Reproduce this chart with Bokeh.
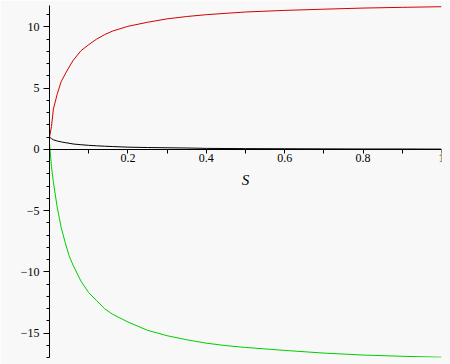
from bokeh.plotting import figure
from bokeh.models import FixedTicker, Range1d
from bokeh.embed import file_html
from bokeh.resources import INLINE

# data
s = [0, 0.005, 0.01, 0.02, 0.03, 0.04, 0.05, 0.06, 0.08, 0.1, 0.12, 0.14, 0.16,
     0.2, 0.25, 0.3, 0.35, 0.4, 0.45, 0.5, 0.6, 0.7, 0.8, 0.9, 1.0]
red = [1.0, 1.85, 3.3, 4.55, 5.55, 6.15, 6.72, 7.25, 8.05, 8.55, 9.0, 9.36, 9.65,
       10.05, 10.38, 10.66, 10.85, 11.0, 11.11, 11.22, 11.35, 11.45, 11.54, 11.6, 11.65]
green = [0.5, -1.4, -2.7, -4.8, -6.4, -7.6, -8.7, -9.45, -10.75, -11.7, -12.35, -13.0, -13.45,
         -14.1, -14.78, -15.22, -15.55, -15.83, -16.03, -16.18, -16.42, -16.64, -16.8, -16.9, -16.98]
black = [1.0, 0.88, 0.78, 0.68, 0.61, 0.55, 0.5, 0.44, 0.38, 0.33, 0.29, 0.26, 0.23,
         0.18, 0.15, 0.13, 0.11, 0.08, 0.07, 0.06, 0.05, 0.04, 0.03, 0.03, 0.02]

x_ticks = [0.2, 0.4, 0.6, 0.8, 1.0]
x_tick_labels = ["0.2", "0.4", "0.6", "0.8", "1"]
x_minor = [0.1, 0.3, 0.5, 0.7, 0.9]
y_ticks = [-15, -10, -5, 0, 5, 10]
y_tick_labels = ["\u221215", "\u221210", "\u22125", "0", "5", "10"]
y_minor = list(range(-17, 12))
x_label = "S"

FONT = "serif"
BG = "#f8f8f8"
p = figure(width=450, height=364, output_backend="svg", toolbar_location=None,
           x_range=Range1d(0, 1), y_range=Range1d(-17, 11.75),
           min_border_left=49, min_border_right=9, min_border_top=5, min_border_bottom=7,
           background_fill_color=BG, border_fill_color=BG)
p.outline_line_color = None
p.grid.visible = False

p.line(s, red, line_color="#d00000", line_width=1)
p.line(s, green, line_color="#00cc00", line_width=1)
p.line(s, black, line_color="black", line_width=1)

xa = p.xaxis[0]
xa.fixed_location = 0
xa.ticker = FixedTicker(ticks=x_ticks, minor_ticks=x_minor)
xa.major_label_overrides = {t: l for t, l in zip(x_ticks, x_tick_labels)}
xa.major_tick_in = 0
xa.major_tick_out = 4
xa.minor_tick_in = 0
xa.minor_tick_out = 4
xa.major_label_standoff = 1
xa.axis_label = x_label
xa.axis_label_text_font = FONT
xa.axis_label_text_font_style = "italic"
xa.axis_label_text_font_size = "15px"
xa.axis_label_standoff = 6

ya = p.yaxis[0]
ya.ticker = FixedTicker(ticks=y_ticks, minor_ticks=y_minor)
ya.major_label_overrides = {t: l for t, l in zip(y_ticks, y_tick_labels)}
ya.major_tick_in = 0
ya.major_tick_out = 6
ya.minor_tick_in = 0
ya.minor_tick_out = 3
ya.major_label_standoff = 4

for ax in (xa, ya):
    ax.axis_line_color = "black"
    ax.axis_line_width = 1
    ax.major_tick_line_color = "black"
    ax.minor_tick_line_color = "black"
    ax.major_label_text_font = FONT
    ax.major_label_text_font_size = "12px"
    ax.major_label_text_color = "black"
    ax.axis_label_text_color = "black"

open("out.html", "w").write(file_html(p, INLINE))
